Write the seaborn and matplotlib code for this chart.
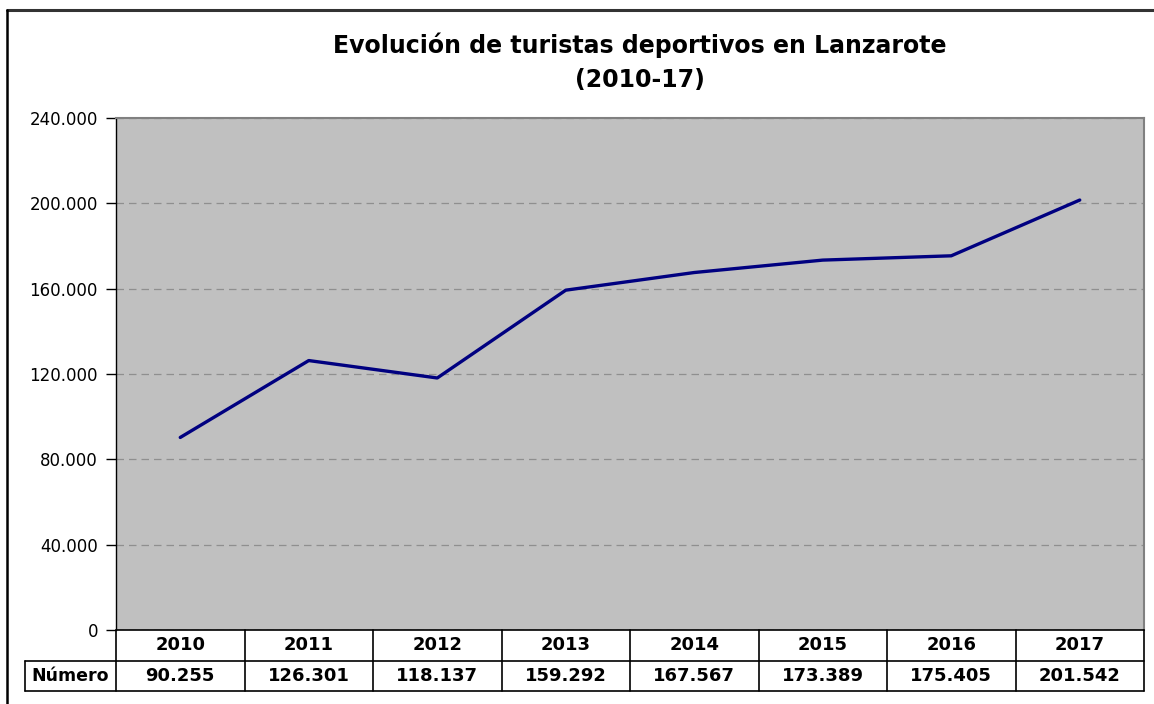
import matplotlib
matplotlib.use("Agg")
import matplotlib.pyplot as plt
import seaborn as sns
import pandas as pd
from matplotlib.ticker import FuncFormatter
from matplotlib.lines import Line2D

# data
years = [2010, 2011, 2012, 2013, 2014, 2015, 2016, 2017]
numero = [90255, 126301, 118137, 159292, 167567, 173389, 175405, 201542]
row_label = "Número"
title = "Evolución de turistas deportivos en Lanzarote\n(2010-17)"

df = pd.DataFrame({"year": years, "numero": numero})


def miles(v, pos=None):
    # thousands separator with a dot, spanish style
    return f"{int(round(v)):,}".replace(",", ".")


sns.set_style("white")
plt.rcParams["font.family"] = ["DejaVu Sans"]
plt.rcParams["text.color"] = "black"
plt.rcParams["ytick.color"] = "black"
plt.rcParams["ytick.labelcolor"] = "black"

W, H = 1154, 704
fig = plt.figure(figsize=(W / 100, H / 100), dpi=100)

# plot area in pixels
px_l, px_r, px_t, px_b = 116, 1144, 118, 630
ax = fig.add_axes([px_l / W, 1 - px_b / H, (px_r - px_l) / W, (px_b - px_t) / H])
ax.set_facecolor("#C0C0C0")

sns.lineplot(data=df, x="year", y="numero", color="#000080", linewidth=2.4, ax=ax)

ax.set_xlim(years[0] - 0.5, years[-1] + 0.5)
ax.set_ylim(0, 240000)
ax.set_yticks(range(0, 240001, 40000))
ax.yaxis.set_major_formatter(FuncFormatter(miles))
ax.set_xticks([])
ax.set_xlabel("")
ax.set_ylabel("")
ax.tick_params(axis="y", which="major", direction="out", length=7, width=1,
               color="black", labelcolor="black", labelsize=12, pad=6, left=True)
ax.grid(axis="y", color="#8f8f8f", linestyle=(0, (6, 4)), linewidth=0.9)
ax.set_axisbelow(True)
for s in ["top", "right"]:
    ax.spines[s].set_color("#808080")
    ax.spines[s].set_linewidth(1.5)
ax.spines["left"].set_color("black")
ax.spines["left"].set_linewidth(1)
ax.spines["bottom"].set_visible(False)

# data table below the plot
tb_t, tb_b = 630, 691
tax = fig.add_axes([px_l / W, 1 - tb_b / H, (px_r - px_l) / W, (tb_b - tb_t) / H])
tax.set_xlim(years[0] - 0.5, years[-1] + 0.5)
tax.set_ylim(0, 2)
tax.axis("off")
col_px = (px_r - px_l) / len(years)
lab_w = (px_l - 25) / col_px
x0 = years[0] - 0.5
x1 = years[-1] + 0.5
lw = 1.2
tax.add_line(Line2D([x0, x1], [2, 2], color="black", lw=lw, clip_on=False))
tax.add_line(Line2D([x0 - lab_w, x1], [1, 1], color="black", lw=lw, clip_on=False))
tax.add_line(Line2D([x0 - lab_w, x1], [0, 0], color="black", lw=lw, clip_on=False))
tax.add_line(Line2D([x0 - lab_w, x0 - lab_w], [0, 1], color="black", lw=lw, clip_on=False))
for i in range(len(years) + 1):
    tax.add_line(Line2D([x0 + i, x0 + i], [0, 2], color="black", lw=lw, clip_on=False))
for yr, v in zip(years, numero):
    tax.text(yr, 1.5, str(yr), ha="center", va="center", fontsize=13, fontweight="bold")
    tax.text(yr, 0.5, miles(v), ha="center", va="center", fontsize=13, fontweight="bold")
tax.text(x0 - lab_w / 2, 0.5, row_label, ha="center", va="center",
         fontsize=12.5, fontweight="bold", clip_on=False)

# title
fig.text(640 / W, 1 - 62 / H, title, ha="center", va="center",
         fontsize=17, fontweight="bold", linespacing=1.5)

# outer chart border (clipped at right and bottom)
fig.add_artist(Line2D([7 / W, 1], [1 - 10 / H, 1 - 10 / H], color="#333333", lw=2.2,
                      transform=fig.transFigure))
fig.add_artist(Line2D([7 / W, 7 / W], [0, 1 - 10 / H], color="black", lw=1.8,
                      transform=fig.transFigure))

fig.savefig("out.png", dpi=100, facecolor="white")
